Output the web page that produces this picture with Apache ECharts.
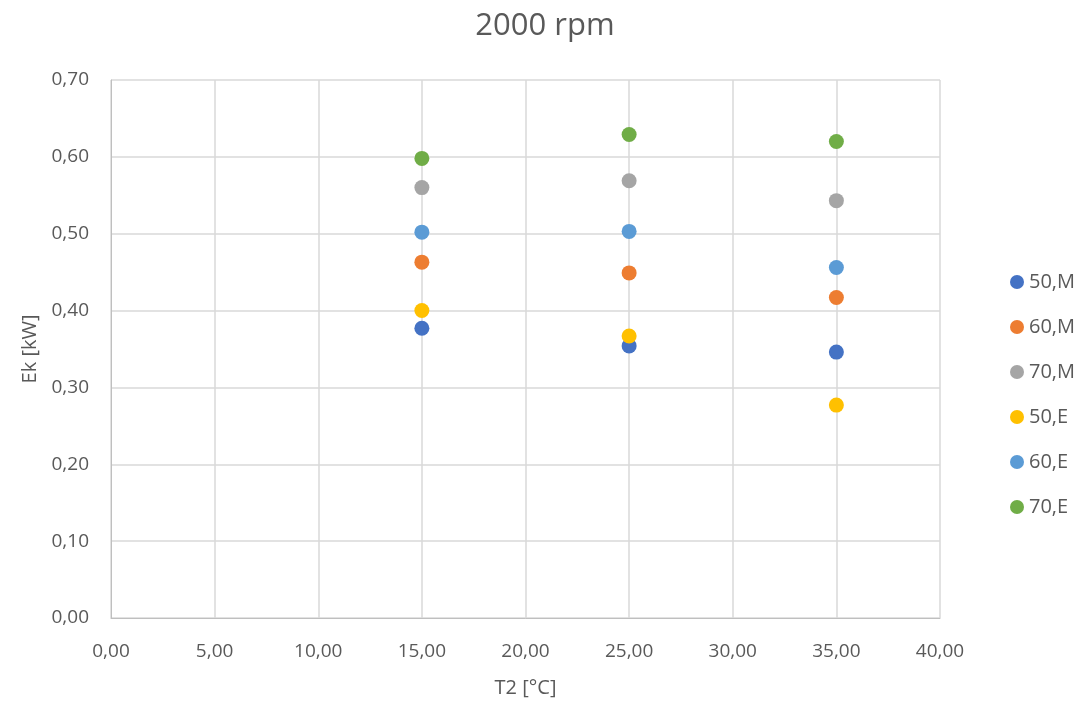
<!DOCTYPE html>
<html><head><meta charset="utf-8">
<script src="https://cdn.jsdelivr.net/npm/echarts@6/dist/echarts.min.js"></script>
<style>html,body{margin:0;padding:0;background:#fff}#c{width:1085px;height:704px}</style>
</head><body><div id="c"></div>
<script>
const xValues = [15, 25, 35];
const seriesNames = ['50,M', '60,M', '70,M', '50,E', '60,E', '70,E'];
const s50M = [0.377, 0.354, 0.346];
const s60M = [0.463, 0.449, 0.417];
const s70M = [0.560, 0.569, 0.543];
const s50E = [0.400, 0.367, 0.277];
const s60E = [0.502, 0.503, 0.456];
const s70E = [0.598, 0.629, 0.620];
const colors = ['#4472C4', '#ED7D31', '#A5A5A5', '#FFC000', '#5B9BD5', '#70AD47'];
const allValues = [s50M, s60M, s70M, s50E, s60E, s70E];

const fmt = v => v.toFixed(2).replace('.', ',');
const font = '"Open Sans", "Liberation Sans", sans-serif';

const chart = echarts.init(document.getElementById('c'));
chart.setOption({
  animation: false,
  backgroundColor: '#fff',
  title: {
    text: '2000 rpm', left: 540, top: 6, textAlign: 'center',
    textStyle: { fontSize: 31, fontWeight: 'normal', color: '#595959', fontFamily: font }
  },
  legend: {
    orient: 'vertical', left: 1010, top: 272, itemGap: 25, padding: 0,
    icon: 'circle', itemWidth: 14, itemHeight: 14,
    textStyle: { fontSize: 20, color: '#595959', fontFamily: font },
    data: seriesNames
  },
  grid: { left: 111, right: 145, top: 80, bottom: 86, containLabel: false },
  xAxis: {
    type: 'value', min: 0, max: 40, interval: 5,
    name: 'T2 [°C]', nameLocation: 'middle', nameGap: 60,
    nameTextStyle: { fontSize: 20, color: '#595959', fontFamily: font },
    axisLine: { show: true, lineStyle: { color: '#BFBFBF', width: 1 } },
    axisTick: { show: false },
    axisLabel: { formatter: fmt, fontSize: 19, color: '#595959', fontFamily: font, margin: 24 },
    splitLine: { show: true, lineStyle: { color: '#D9D9D9', width: 1.5 } }
  },
  yAxis: {
    type: 'value', min: 0, max: 0.7, interval: 0.1,
    name: 'Ek [kW]', nameLocation: 'middle', nameGap: 68, nameRotate: 90,
    nameTextStyle: { fontSize: 20, color: '#595959', fontFamily: font },
    axisLine: { show: true, lineStyle: { color: '#BFBFBF', width: 1 } },
    axisTick: { show: false },
    axisLabel: { formatter: fmt, fontSize: 19, color: '#595959', fontFamily: font, margin: 22 },
    splitLine: { show: true, lineStyle: { color: '#D9D9D9', width: 1.5 } }
  },
  series: seriesNames.map((n, i) => ({
    name: n, type: 'scatter', symbol: 'circle', symbolSize: 15,
    itemStyle: { color: colors[i], opacity: 1 },
    data: xValues.map((x, j) => [x, allValues[i][j]])
  }))
});
</script></body></html>
